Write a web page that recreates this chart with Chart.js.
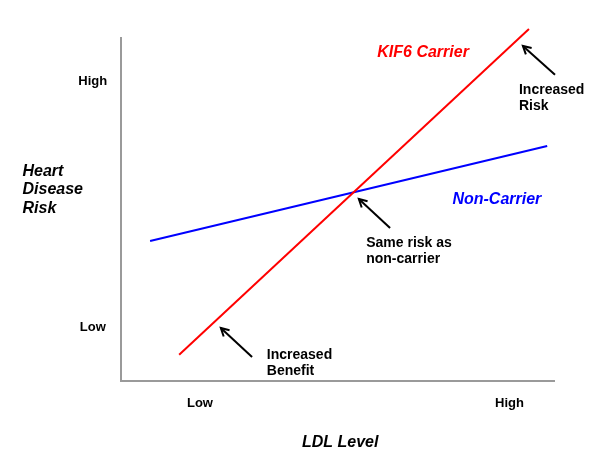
<!DOCTYPE html>
<html>
<head>
<meta charset="utf-8">
<script src="https://cdn.jsdelivr.net/npm/chart.js@4"></script>
<style>
html,body{margin:0;padding:0;background:#fff;}
#wrap{width:613px;height:470px;}
</style>
</head>
<body>
<div id="wrap"><canvas id="c" width="613" height="470"></canvas></div>
<script>
// ---- data (in relative units: 0..100 along each axis) ----
const carrierLdl = [13.4, 94.0];
const carrierRisk = [7.6, 102.3];
const nonCarrierLdl = [6.7, 98.2];
const nonCarrierRisk = [40.7, 68.3];

const xTickLabels = ['Low', 'High'];
const xTickValues = [18.2, 89.5];
const yTickLabels = ['Low', 'High'];
const yTickValues = [15.7, 87.2];

const xTitle = 'LDL Level';
const yTitle = ['Heart', 'Disease', 'Risk'];
const carrierName = 'KIF6 Carrier';
const nonCarrierName = 'Non-Carrier';

// annotations: text lines, text anchor, arrow tail -> head (data units)
const notes = [
  {lines: ['Increased', 'Risk'], at: [91.7, 83.4], tail: [100, 89.0], head: [92.6, 97.4]},
  {lines: ['Same risk as', 'non-carrier'], at: [56.5, 39.0], tail: [62.0, 44.5], head: [54.8, 52.9]},
  {lines: ['Increased', 'Benefit'], at: [33.6, 6.4], tail: [30.2, 7.0], head: [23.0, 15.4]}
];

const FONT = '"Liberation Sans", Arial, Helvetica, sans-serif';

const decor = {
  id: 'decor',
  beforeDatasetsDraw(chart) {
    const ctx = chart.ctx, xs = chart.scales.x, ys = chart.scales.y;
    const X = v => xs.getPixelForValue(v), Y = v => ys.getPixelForValue(v);
    ctx.save();
    ctx.strokeStyle = '#9a9a9a';
    ctx.lineWidth = 2;
    ctx.beginPath();
    ctx.moveTo(X(0), Y(100));
    ctx.lineTo(X(0), Y(0));
    ctx.lineTo(X(100), Y(0));
    ctx.stroke();
    ctx.restore();
  },
  afterDatasetsDraw(chart) {
    const ctx = chart.ctx, xs = chart.scales.x, ys = chart.scales.y;
    const X = v => xs.getPixelForValue(v), Y = v => ys.getPixelForValue(v);
    ctx.save();
    ctx.fillStyle = '#000';
    // tick labels
    ctx.font = 'bold 13px ' + FONT;
    ctx.textAlign = 'center';
    ctx.textBaseline = 'middle';
    yTickLabels.forEach((t, i) => ctx.fillText(t, X(-6.5), Y(yTickValues[i])));
    xTickLabels.forEach((t, i) => ctx.fillText(t, X(xTickValues[i]), Y(-6.6)));
    // axis titles
    ctx.font = 'italic bold 16px ' + FONT;
    ctx.textBaseline = 'alphabetic';
    ctx.fillText(xTitle, X(50.5), Y(-19.2));
    ctx.textAlign = 'left';
    yTitle.forEach((t, i) => ctx.fillText(t, X(-22.7), Y(59.6) + i * 18.5));
    // series labels
    ctx.font = 'italic bold 16px ' + FONT;
    ctx.textAlign = 'center';
    ctx.fillStyle = '#ff0000';
    ctx.fillText(carrierName, X(69.6), Y(94.3));
    ctx.fillStyle = '#0000ff';
    ctx.fillText(nonCarrierName, X(86.6), Y(51.5));
    // notes
    ctx.fillStyle = '#000';
    ctx.strokeStyle = '#000';
    ctx.font = 'bold 14px ' + FONT;
    ctx.textAlign = 'left';
    notes.forEach(n => {
      n.lines.forEach((t, i) => ctx.fillText(t, X(n.at[0]), Y(n.at[1]) + i * 16));
      const x1 = X(n.tail[0]), y1 = Y(n.tail[1]), x2 = X(n.head[0]), y2 = Y(n.head[1]);
      ctx.lineWidth = 2;
      ctx.beginPath();
      ctx.moveTo(x1, y1);
      ctx.lineTo(x2, y2);
      ctx.stroke();
      const a = Math.atan2(y2 - y1, x2 - x1), L = 9, w = 0.5;
      ctx.beginPath();
      ctx.moveTo(x2 - L * Math.cos(a - w), y2 - L * Math.sin(a - w));
      ctx.lineTo(x2, y2);
      ctx.lineTo(x2 - L * Math.cos(a + w), y2 - L * Math.sin(a + w));
      ctx.stroke();
    });
    ctx.restore();
  }
};

new Chart(document.getElementById('c'), {
  type: 'scatter',
  data: {
    datasets: [
      {label: carrierName, data: carrierLdl.map((x, i) => ({x, y: carrierRisk[i]})),
       showLine: true, borderColor: '#ff0000', borderWidth: 2, pointRadius: 0, clip: false},
      {label: nonCarrierName, data: nonCarrierLdl.map((x, i) => ({x, y: nonCarrierRisk[i]})),
       showLine: true, borderColor: '#0000ff', borderWidth: 2, pointRadius: 0, clip: false}
    ]
  },
  options: {
    responsive: false,
    animation: false,
    layout: {padding: {left: 121, right: 58, top: 37, bottom: 89}},
    plugins: {legend: {display: false}, tooltip: {enabled: false}},
    scales: {
      x: {type: 'linear', min: 0, max: 100, display: false},
      y: {type: 'linear', min: 0, max: 100, display: false}
    }
  },
  plugins: [decor]
});
</script>
</body>
</html>
